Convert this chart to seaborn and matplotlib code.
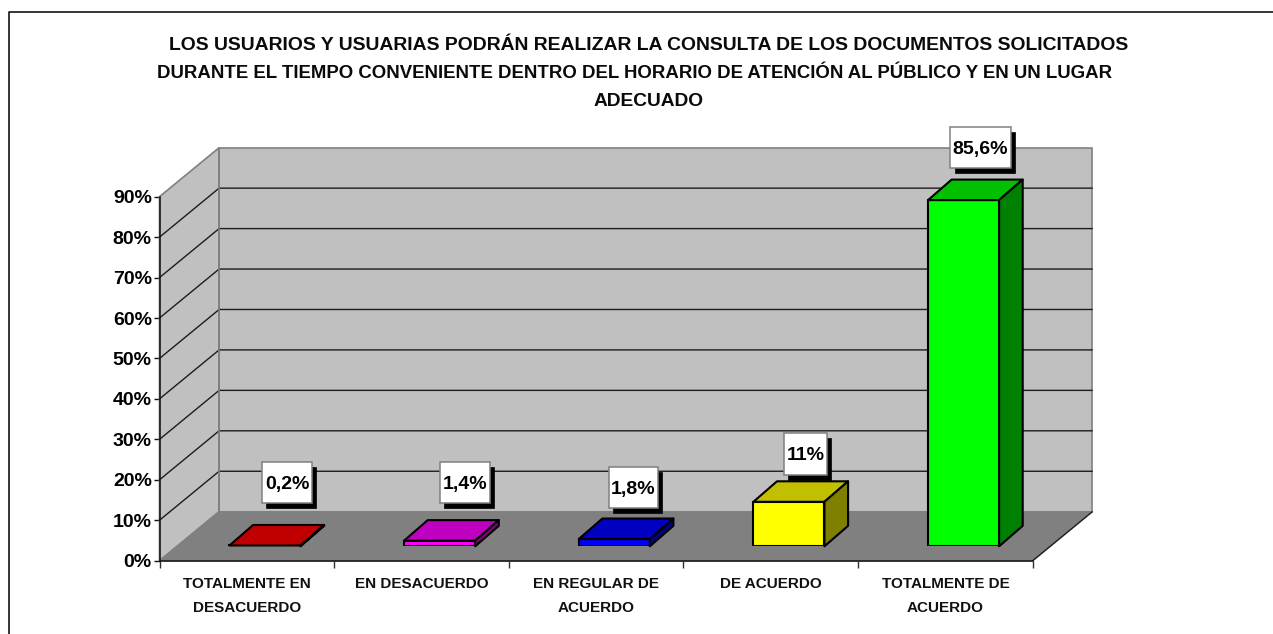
import matplotlib
matplotlib.use("Agg")
import matplotlib.pyplot as plt
from matplotlib.patches import Polygon, Rectangle
from matplotlib.lines import Line2D
from matplotlib.transforms import Affine2D
import seaborn as sns

# ---- data ----
categories = ["TOTALMENTE EN\nDESACUERDO", "EN DESACUERDO", "EN REGULAR DE\nACUERDO",
              "DE ACUERDO", "TOTALMENTE DE\nACUERDO"]
values = [0.2, 1.4, 1.8, 11, 85.6]
value_labels = ["0,2%", "1,4%", "1,8%", "11%", "85,6%"]
y_ticks = [0, 10, 20, 30, 40, 50, 60, 70, 80, 90]
title_lines = ["LOS USUARIOS Y USUARIAS PODRÁN REALIZAR LA CONSULTA DE LOS DOCUMENTOS SOLICITADOS",
               "DURANTE EL TIEMPO CONVENIENTE DENTRO DEL HORARIO DE ATENCIÓN AL PÚBLICO Y EN UN LUGAR",
               "ADECUADO"]
front_colors = ["#FF0000", "#FF00FF", "#0000FF", "#FFFF00", "#00FF00"]
top_colors = ["#C00000", "#C000C0", "#0000C0", "#C0C000", "#00C000"]
side_colors = ["#800000", "#800080", "#000080", "#808000", "#008000"]

# ---- layout (pixels from top-left) ----
W, H = 1273, 634
X0, X1, Y0, Y90 = 159.5, 1032.7, 560.7, 196.7
DEPTH_X, DEPTH_Y = 59.6, -49.0      # wall depth
BAR_DX, BAR_DY = 18.2, -14.4        # bars sit inside the floor
CUBE_X, CUBE_Y = 23.6, -20.5        # bar depth
BAR_WIDTH = 0.407
# label box position relative to the top-front centre of each bar
LABEL_DX = [22.0, 25.0, 19.0, 16.5, 17.0]
LABEL_TOP = [-83.5, -78.5, -72.5, -68.5, -73.5]
BOX_W = [50, 50, 49.5, 43.5, 60.5]
BOX_H = 41.3
# title lines: centre x, baseline y, font size
TITLE_X = [649, 635, 648.5]
TITLE_Y = [50, 78, 106.5]
TITLE_SIZE = [13.95, 13.45, 13.75]

plt.rcParams["font.family"] = ["Liberation Sans", "DejaVu Sans"]
sns.set_style("white")
plt.rcParams["font.family"] = ["Liberation Sans", "DejaVu Sans"]

fig = plt.figure(figsize=(W / 100, H / 100), dpi=100, facecolor="white")
px = Affine2D().scale(1, -1).translate(0, H)


def axes_rect(x0, x1, ybase, ytop):
    return [x0 / W, (H - ybase) / H, (x1 - x0) / W, (ybase - ytop) / H]


# frame (left + top only)
fig.add_artist(Line2D([8.7, 8.7, W], [H, 12.2, 12.2], transform=px, color="black", lw=1.1, zorder=0))

# ---- walls axis: front plane ----
ax = fig.add_axes(axes_rect(X0, X1, Y0, Y90), zorder=1)
ax.patch.set_visible(False)
ax.set_xlim(0, len(categories))
ax.set_ylim(0, 90)


def to_px(a, x, y):
    return px.inverted().transform(a.transData.transform((x, y)))


bl = to_px(ax, 0, 0)
br = to_px(ax, 5, 0)
tl = to_px(ax, 0, 90)
tr = to_px(ax, 5, 90)
d = (DEPTH_X, DEPTH_Y)
back = lambda p: (p[0] + d[0], p[1] + d[1])

wall_kw = dict(transform=px, clip_on=False)
ax.add_patch(Polygon([back(tl), back(tr), back(br), back(bl)], closed=True, fc="#C0C0C0",
                     ec="#808080", lw=1.2, zorder=1, **wall_kw))
ax.add_patch(Polygon([tl, back(tl), back(bl), bl], closed=True, fc="#C0C0C0",
                     ec="#808080", lw=1.2, zorder=1, **wall_kw))
ax.add_patch(Polygon([bl, br, back(br), back(bl)], closed=True, fc="#808080",
                     ec="#808080", lw=1.0, zorder=1.5, **wall_kw))
ax.add_line(Line2D([br[0], back(br)[0]], [br[1], back(br)[1]], color="#202020", lw=1.0,
                   zorder=1.6, **wall_kw))

for t in y_ticks[1:-1]:
    p = to_px(ax, 0, t)
    q = to_px(ax, 5, t)
    ax.add_line(Line2D([p[0], back(p)[0], back(q)[0]], [p[1], back(p)[1], back(q)[1]],
                       color="#1c1c1c", lw=1.0, zorder=1.2, **wall_kw))
# back wall edge redrawn over grid lines
ax.add_line(Line2D([back(tl)[0], back(bl)[0]], [back(tl)[1], back(bl)[1]], color="#808080",
                   lw=1.2, zorder=1.3, **wall_kw))

sns.despine(ax=ax, top=True, right=True)
for s in ("left", "bottom"):
    ax.spines[s].set_color("#101010")
    ax.spines[s].set_linewidth(1.1)
ax.set_yticks(y_ticks)
ax.set_yticklabels([f"{t}%" for t in y_ticks], fontsize=14, fontweight="bold", color="black")
ax.set_xticks(range(len(categories) + 1))
ax.set_xticklabels([])
ax.set_xticks([i + 0.5 for i in range(len(categories))], minor=True)
ax.set_xticklabels(categories, minor=True, fontsize=11.0, fontweight="bold", linespacing=1.95,
                   va="top", color="#111111")
ax.tick_params(axis="y", direction="out", length=4.5, width=1, color="#101010", pad=1, left=True)
ax.tick_params(axis="x", which="major", direction="out", length=5, width=1, color="#303030", bottom=True)
ax.tick_params(axis="x", which="minor", length=0, pad=11.5)

# ---- bars axis: plane of the bars' front faces ----
ax2 = fig.add_axes(axes_rect(X0 + BAR_DX, X1 + BAR_DX, Y0 + BAR_DY, Y90 + BAR_DY), zorder=2)
ax2.patch.set_visible(False)
sns.barplot(x=categories, y=values, hue=categories, palette=front_colors, dodge=False, legend=False,
            width=BAR_WIDTH, edgecolor="black", linewidth=1.5, saturation=1, ax=ax2, zorder=3)
ax2.set_xlim(-0.5, len(categories) - 0.5)
ax2.set_ylim(0, 90)
ax2.axis("off")

for i, (bar, val) in enumerate(zip(ax2.patches, values)):
    x_l, x_r = bar.get_x(), bar.get_x() + bar.get_width()
    a = to_px(ax2, x_l, val)
    b = to_px(ax2, x_r, val)
    c = to_px(ax2, x_r, 0)
    shift = lambda p: (p[0] + CUBE_X, p[1] + CUBE_Y)
    ax2.add_patch(Polygon([a, b, shift(b), shift(a)], closed=True, fc=top_colors[i], ec="black",
                          lw=1.5, joinstyle="round", zorder=4, **wall_kw))
    ax2.add_patch(Polygon([b, shift(b), shift(c), c], closed=True, fc=side_colors[i], ec="black",
                          lw=1.5, joinstyle="round", zorder=4, **wall_kw))

    # data label with drop shadow
    cx = (a[0] + b[0]) / 2 + LABEL_DX[i]
    top = a[1] + LABEL_TOP[i]
    w = BOX_W[i]
    ax2.add_patch(Rectangle((cx - w / 2 + 4.3, top + 5), w, BOX_H, fc="black", ec="black", lw=0.5,
                            zorder=5, **wall_kw))
    ax2.add_patch(Rectangle((cx - w / 2, top), w, BOX_H, fc="white", ec="#808080", lw=1.1,
                            zorder=6, **wall_kw))
    ax2.text(cx, top + BOX_H / 2, value_labels[i], ha="center", va="center_baseline",
             fontsize=14, fontweight="bold", color="black", zorder=7, **wall_kw)

for line, tx, ty, fs in zip(title_lines, TITLE_X, TITLE_Y, TITLE_SIZE):
    fig.text(tx, ty, line, transform=px, ha="center", va="baseline", fontsize=fs,
             fontweight="bold", color="#0a0a0a")

fig.savefig("out.png", dpi=100, facecolor="white")
